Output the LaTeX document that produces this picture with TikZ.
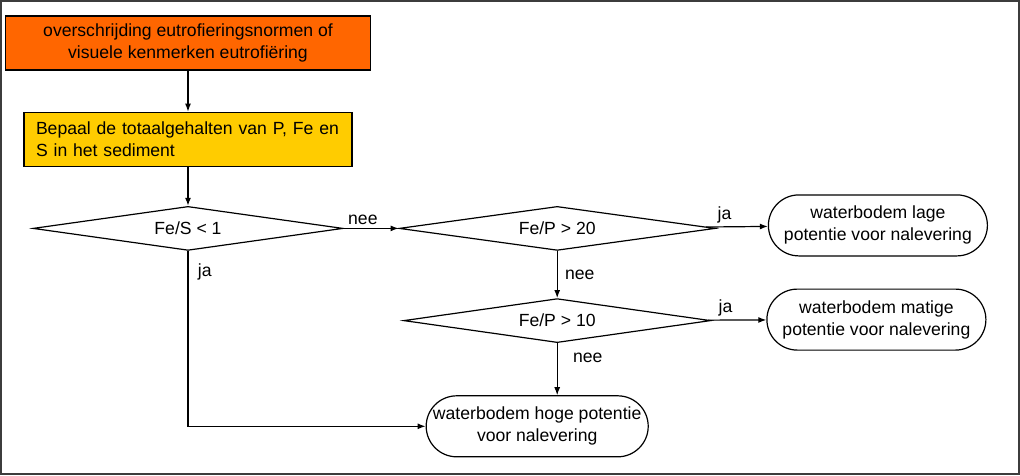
\documentclass[tikz,border=0pt]{standalone}
\usepackage{fontspec}
\setmainfont{Liberation Sans}
\usetikzlibrary{
arrows.meta,
positioning,
shapes
}
\tikzset{>={Latex[length=8pt,width=6pt]}}
\definecolor{normorange}{RGB}{255,102,0}
\definecolor{stepyellow}{RGB}{255,204,0}
\definecolor{framegray}{RGB}{60,60,60}

\begin{document}
\begin{tikzpicture}[x=1pt, y=1pt, font=\fontsize{17.6}{22}\selectfont, line width=1.2pt,
	startbox/.style={
		draw,
		fill=normorange,
		align=center,
		minimum width=365pt,
		minimum height=54pt,
		inner sep=0pt
	},
	actionbox/.style={
		draw,
		fill=stepyellow,
		align=left,
		text width=304pt,
		inner xsep=12pt,
		inner ysep=4pt,
		minimum height=54pt
	},
	decision/.style={
		diamond,
		aspect=7,
		draw,
		inner sep=0pt,
		minimum width=#1,
		minimum height=44pt
	},
	outcome/.style={
		rounded rectangle,
		draw,
		align=center,
		minimum width=219pt,
		minimum height=61pt,
		inner sep=0pt
	}]
		\useasboundingbox (0,0) rectangle (1020,-475);
		\draw[framegray, line width=2pt] (1,-1) rectangle (1019,-474);

		\node[startbox] at (188,-43)                       (trigger) {overschrijding eutrofieringsnormen of\\visuele kenmerken eutrofiëring};
		\node[actionbox,below=41pt of trigger]              (bepaal)  {Bepaal de totaalgehalten van P, Fe en\\S in het sediment};
		\node[decision=310pt,below=39pt of bepaal]          (fes)     {Fe/S < 1};
		\node[decision=316pt,right=55pt of fes]             (fep20)   {Fe/P > 20};
		\node[outcome,right=52pt of fep20,yshift=3pt]       (lage)    {waterbodem lage\\potentie voor nalevering};
		\node[decision=307pt,below=47pt of fep20]           (fep10)   {Fe/P > 10};
		\node[outcome,right=55pt of fep10,yshift=1pt]       (matige)  {waterbodem matige\\potentie voor nalevering};
		\node[outcome,minimum width=217pt,below=52pt of fep10,xshift=-20pt] (hoge) {waterbodem hoge potentie\\voor nalevering};

		\draw[->] (trigger) -- (bepaal);
		\draw[->] (bepaal)  -- (fes);
		\draw[->] (fes)     -- node[pos=0.35,above] {nee} (fep20);
		\draw[->] (fep20)   -- node[pos=0.3,above] {ja} (lage);
		\draw[->] (fep20)   -- node[right,xshift=4pt] {nee} (fep10);
		\draw[->] (fep10)   -- node[pos=0.3,above] {ja} (matige);
		\draw[->] (fep10)   -- node[pos=0.28,right,xshift=12pt] {nee} (fep10.south |- hoge.north);
		\draw[->] (fes)     |- node[pos=0.06,right,xshift=6pt] {ja} (hoge);
	\end{tikzpicture}
\end{document}
